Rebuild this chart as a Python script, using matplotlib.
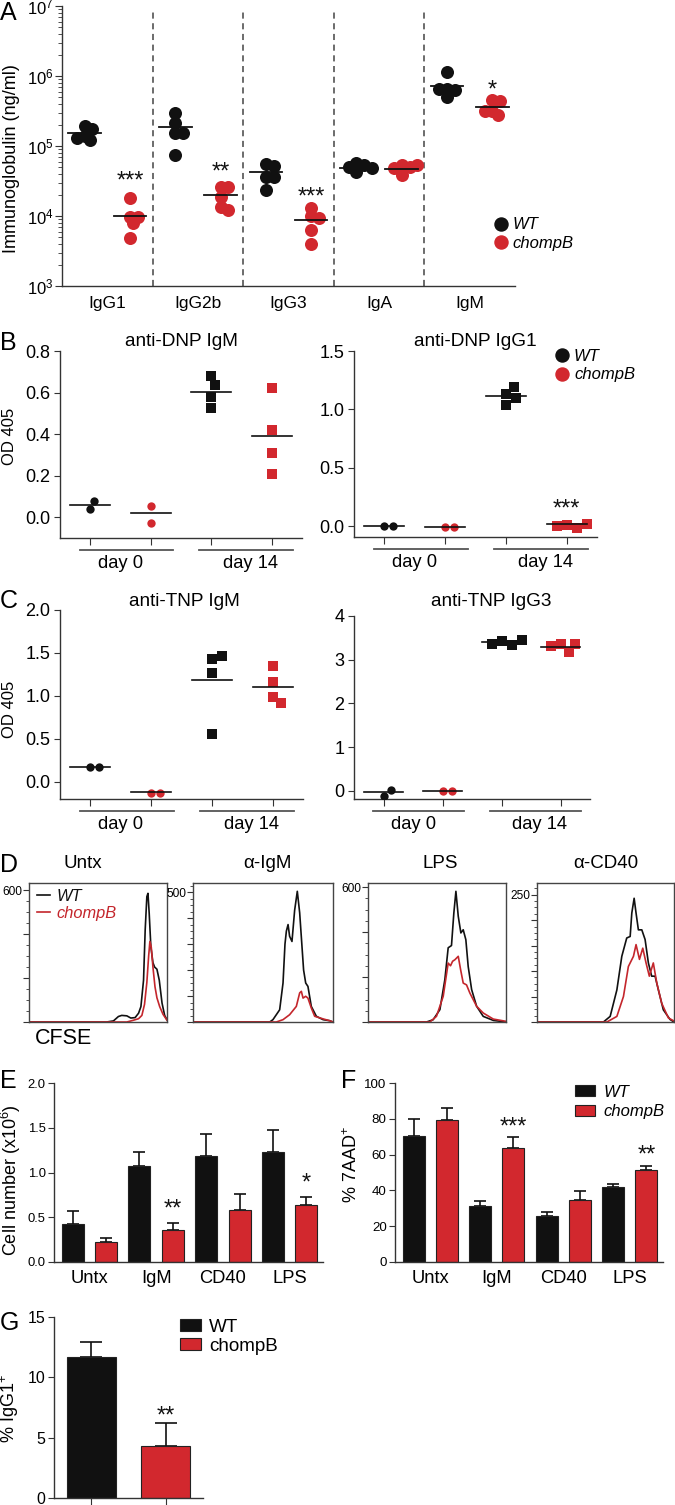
import numpy as np
import matplotlib
matplotlib.use('Agg')
import matplotlib.pyplot as plt
from matplotlib.lines import Line2D
from matplotlib.patches import Patch
from matplotlib.ticker import AutoMinorLocator, LogLocator, NullFormatter, FormatStrFormatter

plt.rcParams['font.family'] = ['Liberation Sans', 'DejaVu Sans']
plt.rcParams['mathtext.default'] = 'regular'
plt.rcParams['axes.linewidth'] = 1.0

BLACK = '#111111'
RED = '#d2282e'
RED_LINE = '#c4262c'
SPINE = '#333333'
W, H = 675, 1505

# ---- A: serum immunoglobulin (ng/ml)
ig_classes = ['IgG1', 'IgG2b', 'IgG3', 'IgA', 'IgM']
ig_wt = [[1.9e5, 1.75e5, 1.4e5, 1.2e5, 1.3e5],
         [3.0e5, 2.1e5, 1.55e5, 1.55e5, 7.4e4],
         [5.6e4, 5.2e4, 3.6e4, 3.6e4, 2.35e4],
         [5.65e4, 5.36e4, 5.07e4, 4.3e4, 4.8e4],
         [1.15e6, 6.6e5, 6.4e5, 5.0e5, 6.6e5]]
ig_ko = [[1.8e4, 9.8e3, 8.0e3, 9.8e3, 4.8e3],
         [2.6e4, 2.6e4, 1.85e4, 1.35e4, 1.2e4],
         [1.3e4, 1.0e4, 9.5e3, 6.3e3, 4.0e3],
         [5.36e4, 5.07e4, 3.86e4, 4.8e4, 5.36e4],
         [4.6e5, 4.4e5, 3.2e5, 2.75e5, 3.2e5]]
ig_wt_mean = [1.55e5, 1.85e5, 4.3e4, 4.9e4, 7.2e5]
ig_ko_mean = [1.0e4, 2.0e4, 8.7e3, 4.64e4, 3.55e5]
ig_stars = ['***', '**', '***', '', '*']
ig_star_y = [3.9e4, 5.2e4, 2.3e4, None, 7.9e5]

# ---- B/C: OD 405, groups = WT day0, chompB day0, WT day14, chompB day14
dnp_igm = [[0.04, 0.08], [0.055, -0.03], [0.68, 0.635, 0.58, 0.525], [0.62, 0.42, 0.31, 0.21]]
dnp_igm_mean = [0.06, 0.02, 0.605, 0.39]
dnp_igg1 = [[0.0, 0.0], [-0.01, -0.01], [1.13, 1.19, 1.10, 1.034], [0.006, -0.014, 0.0, 0.02]]
dnp_igg1_mean = [0.0, -0.01, 1.114, 0.014]
tnp_igm = [[0.167, 0.167], [-0.128, -0.128], [1.425, 1.464, 1.27, 0.555], [1.348, 1.165, 0.99, 0.92]]
tnp_igm_mean = [0.175, -0.124, 1.19, 1.107]
tnp_igg3 = [[-0.12, 0.015], [0.0, 0.0], [3.43, 3.34, 3.35, 3.44], [3.36, 3.18, 3.32, 3.37]]
tnp_igg3_mean = [-0.04, 0.0, 3.40, 3.30]
day_labels = ['day 0', 'day 14']

# ---- D: CFSE histograms (channel 0-100, counts)
hist_titles = ['Untx', '\u03b1-IgM', 'LPS', '\u03b1-CD40']
hist_top = [600, 500, 600, 250]
hist_step = [200, 100, 200, 50]
hist_ymax = [632, 535, 618, 273]
untx_wt_x = [0, 56.3, 61.2, 64.8, 67.2, 70.9, 73.8, 76.9, 79.4, 81.1, 83.0, 84.2, 85.4, 86.2, 87.1, 88.3, 89.8, 91.0, 92.7, 94.4, 96.4, 98.3, 100]
untx_wt_y = [0, 0, 5, 25, 30, 28, 18, 20, 40, 70, 190, 420, 570, 585, 494, 343, 270, 250, 240, 190, 86, 30, 10]
untx_ko_x = [0, 70.9, 75.7, 79.4, 81.8, 83.7, 85.4, 86.7, 87.6, 88.6, 89.8, 91.3, 92.7, 94.7, 97.1, 100]
untx_ko_y = [0, 0, 8, 15, 30, 80, 180, 300, 366, 340, 250, 160, 110, 70, 35, 8]
igm_wt_x = [0, 54.8, 57.1, 61.9, 64.3, 65.7, 66.7, 67.9, 69.0, 70.7, 72.6, 74.5, 76.2, 77.6, 79.0, 80.5, 82.1, 84.5, 88.1, 92.9, 97.6, 100]
igm_wt_y = [0, 0, 9, 47, 150, 300, 350, 375, 330, 310, 430, 503, 420, 310, 200, 150, 137, 60, 22, 9, 5, 0]
igm_ko_x = [0, 59.5, 64.3, 69.0, 73.8, 76.2, 77.4, 78.6, 80.5, 82.1, 84.5, 86.9, 92.9, 97.6, 100]
igm_ko_y = [0, 0, 9, 28, 60, 112, 118, 92, 99, 92, 54, 22, 12, 5, 0]
lps_wt_x = [0, 42.4, 47.2, 52.1, 55.7, 58.1, 60.5, 62.2, 63.7, 65.4, 67.3, 69.0, 70.9, 72.6, 75.1, 78.7, 83.5, 90.8, 100]
lps_wt_y = [0, 0, 10, 55, 189, 330, 340, 484, 581, 470, 396, 410, 366, 247, 144, 70, 25, 7, 0]
lps_ko_x = [0, 44.8, 49.6, 54.5, 58.1, 59.8, 61.3, 63.0, 65.4, 67.1, 69.0, 71.4, 73.8, 78.7, 83.5, 90.8, 100]
lps_ko_y = [0, 0, 25, 114, 262, 250, 270, 277, 292, 233, 173, 165, 129, 70, 40, 13, 3]
cd40_wt_x = [0, 48.5, 53.4, 58.3, 61.9, 65.5, 68.0, 69.2, 70.9, 72.3, 74.0, 76.5, 78.9, 81.3, 83.7, 86.2, 88.6, 92.2, 97.1, 100]
cd40_wt_y = [0, 0, 11, 63, 129, 165, 168, 214, 243, 214, 181, 181, 162, 116, 90, 90, 63, 24, 5, 0]
cd40_ko_x = [0, 51.0, 58.3, 63.1, 66.7, 70.4, 72.3, 74.8, 77.2, 79.6, 82.0, 84.9, 87.4, 91.0, 95.9, 100]
cd40_ko_y = [0, 0, 11, 50, 109, 129, 152, 123, 145, 116, 90, 116, 77, 37, 8, 2]

# ---- E/F: stimulation bars
stim = ['Untx', 'IgM', 'CD40', 'LPS']
cells_wt = [0.43, 1.07, 1.18, 1.23]
cells_wt_err = [0.14, 0.16, 0.25, 0.25]
cells_ko = [0.22, 0.36, 0.58, 0.64]
cells_ko_err = [0.05, 0.08, 0.18, 0.09]
cells_stars = ['', '**', '', '*']
cells_star_y = [None, 0.66, None, 0.95]
aad_wt = [70.5, 31.3, 25.7, 41.9]
aad_wt_err = [9.5, 2.7, 2.3, 1.7]
aad_ko = [79.3, 63.7, 34.6, 51.4]
aad_ko_err = [6.7, 6.1, 5.1, 2.2]
aad_stars = ['', '***', '', '**']
aad_star_y = [None, 78.8, None, 63.5]

# ---- G: % IgG1+
igg1_vals = [11.7, 4.3]
igg1_err = [1.2, 1.9]

fig = plt.figure(figsize=(W / 100, H / 100), dpi=100)


def add_ax(l, t, r, b):
    return fig.add_axes([l / W, 1 - b / H, (r - l) / W, (b - t) / H])


def ftext(x, y, s, **kw):
    fig.text(x / W, 1 - y / H, s, **kw)


def swarm(ax, x0, ys, d, overlap=0.8):
    pts = ax.transData.transform(np.column_stack([np.full(len(ys), float(x0)), ys]))
    inv = ax.transData.inverted()
    placed, out = [], []
    for px, py in pts:
        for k in range(80):
            dx = ((k + 1) // 2) * 0.2 * d * (1 if k % 2 else -1)
            if all((px + dx - qx) ** 2 + (py - qy) ** 2 >= (overlap * d) ** 2 for qx, qy in placed):
                break
        placed.append((px + dx, py))
        out.append(inv.transform((px + dx, py))[0])
    return out


def star(ax, x, y, s, fs=17):
    ax.annotate(s, (x, y), xytext=(0, -0.55 * fs), textcoords='offset points',
                ha='center', va='baseline', fontsize=fs, color=BLACK)


def clean(ax):
    for side in ('top', 'right'):
        ax.spines[side].set_visible(False)
    for side in ('left', 'bottom'):
        ax.spines[side].set_color(SPINE)


# panel letters
for letter, (x, y) in zip('ABCDEFG', [(0, 1), (0, 331), (0, 589), (0, 853), (0, 1069), (341, 1069), (0, 1311)]):
    ftext(x, y, letter, fontsize=18, ha='left', va='top')

# ================= A
axA = add_ax(62, 6, 515, 286)
axA.set_yscale('log')
axA.set_ylim(1e3, 1e7)
axA.set_xlim(-0.5, 4.5)
for i in range(5):
    for vals, m, off, col in ((ig_wt[i], ig_wt_mean[i], -0.25, BLACK), (ig_ko[i], ig_ko_mean[i], 0.25, RED)):
        xs = swarm(axA, i + off, vals, 13, 0.5)
        axA.scatter(xs, vals, s=88, color=col, lw=0, zorder=3)
        axA.plot([i + off - 0.18, i + off + 0.18], [m, m], color=BLACK, lw=1.3, zorder=4)
    if ig_stars[i]:
        star(axA, i + 0.25, ig_star_y[i], ig_stars[i])
for xd in np.arange(0.5, 4.5, 1):
    axA.axvline(xd, ymax=0.98, color='#444444', lw=1.1, ls=(0, (4, 3)))
clean(axA)
axA.set_yticks([1e3, 1e4, 1e5, 1e6, 1e7])
axA.yaxis.set_minor_locator(LogLocator(base=10, subs=np.arange(2, 10)))
axA.yaxis.set_minor_formatter(NullFormatter())
axA.tick_params(axis='y', which='major', direction='out', length=5, pad=1, labelsize=12, color=SPINE)
axA.tick_params(axis='y', which='minor', direction='out', length=3, color=SPINE)
axA.set_xticks(range(5))
axA.set_xticklabels(ig_classes)
axA.tick_params(axis='x', length=0, pad=7, labelsize=12.5)
ftext(12, 159, 'Immunoglobulin (ng/ml)', rotation=90, ha='center', va='center', fontsize=13)
hA = [Line2D([], [], ls='none', marker='o', ms=9.4, color=c) for c in (BLACK, RED)]
axA.legend(hA, ['WT', 'chompB'], loc='upper left', bbox_to_anchor=(0.955, 0.245), frameon=False,
           borderpad=0, borderaxespad=0, handlelength=0.8, handletextpad=0.3, labelspacing=0.2,
           prop={'style': 'italic', 'size': 12})


# ================= B / C
def day_panel(box, groups, means, ylim, yticks, fmt, title, title_xy, legend=False):
    ax = add_ax(*box)
    h_px = box[3] - box[1]
    ax.set_xlim(-0.5, 3.5)
    ax.set_ylim(*ylim)
    styles = [('o', BLACK, 36, 9), ('o', RED, 36, 9), ('s', BLACK, 44, 10), ('s', RED, 44, 10)]
    for x, (vals, m, (mk, col, sz, d)) in enumerate(zip(groups, means, styles)):
        xs = swarm(ax, x, vals, d, 1.0)
        ax.scatter(xs, vals, marker=mk, s=sz, color=col, lw=0, zorder=3)
        ax.plot([x - 0.33, x + 0.33], [m, m], color=BLACK, lw=1.2, zorder=4)
    clean(ax)
    ax.set_yticks(yticks)
    ax.yaxis.set_major_formatter(FormatStrFormatter(fmt))
    ax.tick_params(axis='y', direction='out', length=4, pad=3, labelsize=13, color=SPINE)
    ax.set_xticks(range(4))
    ax.set_xticklabels([])
    ax.tick_params(axis='x', direction='out', length=5, color=SPINE)
    tr = ax.get_xaxis_transform()
    for (x0, x1), xc, lab in zip([(-0.17, 1.37), (1.8, 3.35)], [0.5, 2.65], day_labels):
        ax.plot([x0, x1], [-12 / h_px] * 2, color='#555555', lw=1.3, transform=tr, clip_on=False)
        ax.text(xc, -17 / h_px, lab, transform=tr, ha='center', va='top', fontsize=13.2)
    ftext(title_xy[0], title_xy[1], title, ha='center', va='center', fontsize=13.7)
    if legend:
        hB = [Line2D([], [], ls='none', marker='o', ms=9.4, color=c) for c in (BLACK, RED)]
        ax.legend(hB, ['WT', 'chompB'], loc='upper left', bbox_to_anchor=(0.83, 1.01), frameon=False,
                  borderpad=0, borderaxespad=0, handlelength=0.8, handletextpad=0.3, labelspacing=0.2,
                  prop={'style': 'italic', 'size': 12})
    return ax


axB1 = day_panel((60, 351, 302, 538), dnp_igm, dnp_igm_mean, (-0.1, 0.8), [0, 0.2, 0.4, 0.6, 0.8], '%.1f',
                 'anti-DNP IgM', (181, 341))
axB2 = day_panel((354, 351, 597, 537), dnp_igg1, dnp_igg1_mean, (-0.094, 1.5), [0, 0.5, 1.0, 1.5], '%.1f',
                 'anti-DNP IgG1', (475, 341), legend=True)
star(axB2, 3, 0.197, '***')
axC1 = day_panel((60, 610, 303, 799), tnp_igm, tnp_igm_mean, (-0.2, 2.0), [0, 0.5, 1.0, 1.5, 2.0], '%.1f',
                 'anti-TNP IgM', (184, 602))
axC2 = day_panel((354, 616, 590, 799), tnp_igg3, tnp_igg3_mean, (-0.19, 4.0), [0, 1, 2, 3, 4], '%d',
                 'anti-TNP IgG3', (491, 602))
ftext(10, 436, 'OD 405', rotation=90, ha='center', va='center', fontsize=12)
ftext(10, 709, 'OD 405', rotation=90, ha='center', va='center', fontsize=12)

# ================= D
hist_boxes = [(29, 883, 167, 1022), (193, 883, 333, 1022), (368, 883, 506, 1022), (537, 883, 674, 1022)]
hist_title_x = [83, 267, 440, 606]
hist_curves = [(untx_wt_x, untx_wt_y, untx_ko_x, untx_ko_y), (igm_wt_x, igm_wt_y, igm_ko_x, igm_ko_y),
               (lps_wt_x, lps_wt_y, lps_ko_x, lps_ko_y), (cd40_wt_x, cd40_wt_y, cd40_ko_x, cd40_ko_y)]
for i, box in enumerate(hist_boxes):
    ax = add_ax(*box)
    wx, wy, kx, ky = hist_curves[i]
    ax.plot(wx, wy, color=BLACK, lw=1.2, label='WT')
    ax.plot(kx, ky, color=RED_LINE, lw=1.2, label='chompB')
    ax.set_xlim(0, 100)
    ax.set_ylim(0, hist_ymax[i])
    ticks = np.arange(0, hist_top[i] + 1, hist_step[i])
    ax.set_yticks(ticks)
    ax.set_yticklabels([''] * (len(ticks) - 1) + [str(hist_top[i])])
    ax.yaxis.set_minor_locator(AutoMinorLocator(4))
    ax.tick_params(axis='y', which='major', direction='out', length=4, pad=1, labelsize=8.6, color=SPINE)
    ax.tick_params(axis='y', which='minor', direction='out', length=2, color=SPINE)
    ax.set_xticks([])
    for sp in ax.spines.values():
        sp.set_color('#444444')
    ftext(hist_title_x[i], 863, hist_titles[i], ha='center', va='center', fontsize=13.5)
    if i == 0:
        ax.legend(loc='upper left', bbox_to_anchor=(0.06, 0.96), frameon=False, borderpad=0, borderaxespad=0,
                  handlelength=0.75, handletextpad=0.4, labelspacing=0.15, prop={'style': 'italic', 'size': 11.8},
                  labelcolor=[BLACK, RED_LINE])
ftext(64, 1038, 'CFSE', ha='center', va='center', fontsize=15.5)


# ================= E / F
def bar_panel(box, wt, wt_err, ko, ko_err, ylim, yticks, fmt, stars, star_y, tick_fs):
    ax = add_ax(*box)
    x = np.arange(len(stim))
    ax.bar(x - 0.25, wt, 0.33, color=BLACK, edgecolor='#222222', lw=0.8, zorder=2)
    ax.bar(x + 0.25, ko, 0.33, color=RED, edgecolor='#222222', lw=0.8, zorder=2)
    ax.errorbar(x - 0.25, wt, yerr=[np.zeros(len(wt)), wt_err], fmt='none', ecolor=BLACK, elinewidth=1.2,
                capsize=4.5, capthick=1.2, zorder=1)
    ax.errorbar(x + 0.25, ko, yerr=[np.zeros(len(ko)), ko_err], fmt='none', ecolor=BLACK, elinewidth=1.2,
                capsize=4.5, capthick=1.2, zorder=1)
    for xi, s, sy in zip(x, stars, star_y):
        if s:
            star(ax, xi + 0.25, sy, s)
    ax.set_xlim(-0.53, 3.5)
    ax.set_ylim(*ylim)
    clean(ax)
    ax.set_yticks(yticks)
    ax.yaxis.set_major_formatter(FormatStrFormatter(fmt))
    ax.tick_params(axis='y', direction='out', length=4, pad=2, labelsize=tick_fs, color=SPINE)
    ax.set_xticks(x)
    ax.set_xticklabels(stim)
    ax.tick_params(axis='x', length=0, pad=6, labelsize=13.2)
    return ax


axE = bar_panel((54, 1083, 323, 1262), cells_wt, cells_wt_err, cells_ko, cells_ko_err, (0, 2.0),
                [0, 0.5, 1.0, 1.5, 2.0], '%.1f', cells_stars, cells_star_y, 9.4)
ftext(11, 1180, 'Cell number (x10$^{6}$)', rotation=90, ha='center', va='center', fontsize=13)
axF = bar_panel((395, 1083, 663, 1262), aad_wt, aad_wt_err, aad_ko, aad_ko_err, (0, 100),
                [0, 20, 40, 60, 80, 100], '%d', aad_stars, aad_star_y, 9.6)
ftext(352, 1165, '% 7AAD$^{+}$', rotation=90, ha='center', va='center', fontsize=13)
hF = [Patch(facecolor=c, edgecolor='#222222', lw=0.8) for c in (BLACK, RED)]
axF.legend(hF, ['WT', 'chompB'], loc='upper left', bbox_to_anchor=(0.672, 0.99), frameon=False,
           borderpad=0, borderaxespad=0, handlelength=1.2, handleheight=0.65, handletextpad=0.5,
           labelspacing=0.25, prop={'style': 'italic', 'size': 12})

# ================= G
axG = add_ax(54, 1317, 203, 1498)
axG.bar([0, 1], igg1_vals, 0.66, color=[BLACK, RED], edgecolor='#222222', lw=0.8, zorder=2)
axG.errorbar([0, 1], igg1_vals, yerr=[[0, 0], igg1_err], fmt='none', ecolor=BLACK, elinewidth=1.2,
             capsize=8, capthick=1.2, zorder=1)
star(axG, 1, 7.3, '**')
axG.set_xlim(-0.5, 1.5)
axG.set_ylim(0, 15)
clean(axG)
axG.set_yticks([0, 5, 10, 15])
axG.tick_params(axis='y', direction='out', length=4, pad=2, labelsize=11.5, color=SPINE)
axG.set_xticks([0, 1])
axG.set_xticklabels([])
axG.tick_params(axis='x', direction='out', length=6, color=SPINE)
ftext(10, 1409, '% IgG1$^{+}$', rotation=90, ha='center', va='center', fontsize=13)
hG = [Patch(facecolor=c, edgecolor='#222222', lw=0.8) for c in (BLACK, RED)]
axG.legend(hG, ['WT', 'chompB'], loc='upper left', bbox_to_anchor=(0.846, 0.99), frameon=False,
           borderpad=0, borderaxespad=0, handlelength=1.1, handleheight=0.6, handletextpad=0.45,
           labelspacing=0.1, prop={'size': 13.6})

fig.savefig('out.png', dpi=100)
